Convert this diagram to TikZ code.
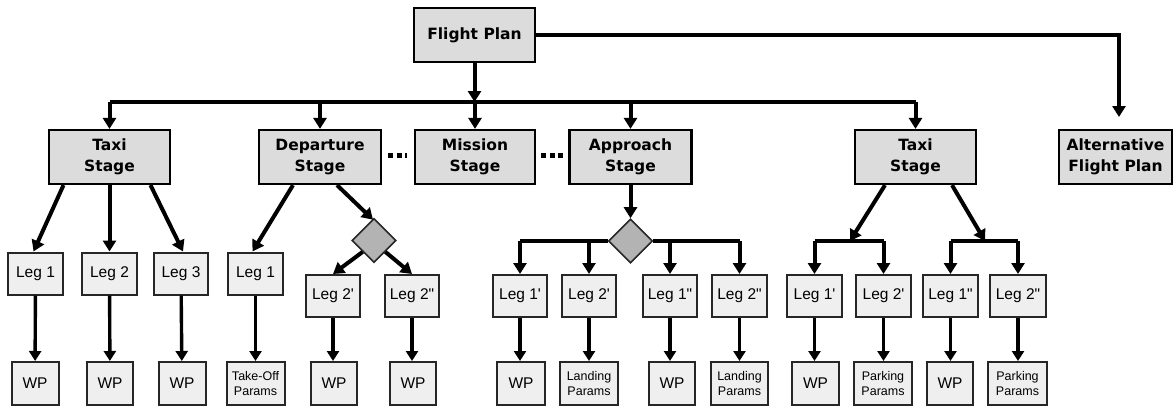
\documentclass[tikz,border=0pt]{standalone}
\usepackage{fontspec}
\setmainfont{Liberation Sans}
\newfontfamily\stagefont{DejaVu Sans}
\usetikzlibrary{arrows.meta,shapes.geometric}
\definecolor{stagegray}{HTML}{DCDCDC}
\definecolor{leggray}{HTML}{EFEFEF}
\definecolor{choicegray}{HTML}{B3B3B3}
\newcommand{\pr}{\textquotesingle}
\newcommand{\dpr}{\textquotedbl}
\begin{document}
\begin{tikzpicture}[x=1pt,y=-1pt,
  stagebox/.style={draw=black, line width=2.2pt, fill=stagegray, minimum width=121pt,
    minimum height=54pt, inner sep=0pt, align=center,
    font=\stagefont\bfseries\fontsize{15.5}{20.5}\selectfont},
  legbox/.style={draw=black!85, line width=2pt, fill=leggray, minimum width=55pt,
    minimum height=42pt, inner sep=0pt, font=\fontsize{15.5}{18}\selectfont},
  leafbox/.style={legbox, minimum width=47pt, minimum height=43pt},
  parambox/.style={leafbox, minimum width=58pt, align=center,
    font=\fontsize{12.5}{15}\selectfont},
  choice/.style={diamond, aspect=1, draw=black!85, line width=1.6pt, fill=choicegray,
    minimum width=44pt, minimum height=44pt, inner sep=0pt},
  flow/.style={line width=4pt, -{Triangle[width=13pt,length=11pt]}},
  thinflow/.style={line width=3.4pt, -{Triangle[width=12pt,length=10pt]}},
  link/.style={line width=4pt},
  ellipsis/.style={line width=5pt, dash pattern=on 5pt off 3.5pt}
]
\useasboundingbox (0,0) rectangle (1175,410);

% top level
\node[stagebox] (fp) at (474.5,35) {Flight Plan};

% stages
\node[stagebox] (taxi1) at (109.5,157) {Taxi\\Stage};
\node[stagebox, minimum width=122pt] (dep) at (320,157) {Departure\\Stage};
\node[stagebox, minimum width=120pt] (mis) at (475,157) {Mission\\Stage};
\node[stagebox, minimum width=122pt] (app) at (630.5,157) {Approach\\Stage};
\node[stagebox] (taxi2) at (915.5,157) {Taxi\\Stage};
\node[stagebox, minimum width=113pt] (alt) at (1115.5,157) {Alternative\\Flight Plan};

% helper points
\coordinate (bus) at (474.5,102);
\coordinate (altin) at (1119,117);
\coordinate (j1) at (850,241);
\coordinate (j2) at (985,241);

% taxi-out legs
\node[legbox] (t1l1) at (35.5,273.5) {Leg 1};
\node[legbox] (t1l2) at (109.5,273.5) {Leg 2};
\node[legbox, minimum width=54pt] (t1l3) at (181,273.5) {Leg 3};
\node[leafbox] (t1w1) at (35,383.5) {WP};
\node[leafbox, minimum width=46pt] (t1w2) at (110,383.5) {WP};
\node[leafbox] (t1w3) at (182,383.5) {WP};

% departure legs
\node[legbox] (dl1) at (255.5,273.5) {Leg 1};
\node[parambox] (dto) at (255.5,383.5) {Take-Off\\Params};
\node[choice] (dd) at (374,240.5) {};
\node[legbox, minimum width=54pt] (dl2a) at (333,296) {Leg 2\pr};
\node[legbox, minimum width=54pt] (dl2b) at (412,296) {Leg 2\dpr};
\node[leafbox, minimum width=46pt] (dw2a) at (334,383.5) {WP};
\node[leafbox, minimum width=46pt] (dw2b) at (413,383.5) {WP};

% approach legs
\node[choice] (ad) at (630.5,241) {};
\node[legbox, minimum width=54pt] (al1a) at (520,296) {Leg 1\pr};
\node[legbox, minimum width=54pt] (al2a) at (589,296) {Leg 2\pr};
\node[legbox, minimum width=54pt] (al1b) at (670,296) {Leg 1\dpr};
\node[legbox] (al2b) at (739.5,296) {Leg 2\dpr};
\node[leafbox, minimum width=48pt] (aw1a) at (521,383.5) {WP};
\node[parambox] (ap2a) at (589,383.5) {Landing\\Params};
\node[leafbox, minimum width=46pt] (aw1b) at (672,383.5) {WP};
\node[parambox, minimum width=57pt] (ap2b) at (739.5,383.5) {Landing\\Params};

% taxi-in legs
\node[legbox] (t2l1a) at (814.5,296) {Leg 1\pr};
\node[legbox] (t2l2a) at (883.5,296) {Leg 2\pr};
\node[legbox] (t2l1b) at (950.5,296) {Leg 1\dpr};
\node[legbox, minimum width=56pt] (t2l2b) at (1018,296) {Leg 2\dpr};
\node[leafbox] (t2w1a) at (815.5,383.5) {WP};
\node[parambox] (t2p2a) at (883,383.5) {Parking\\Params};
\node[leafbox, minimum width=46pt] (t2w1b) at (950,383.5) {WP};
\node[parambox, minimum width=59pt] (t2p2b) at (1017.5,383.5) {Parking\\Params};

% flight plan to stages
\draw[flow] (fp.south) -- (bus);
\draw[link] (taxi1.north |- bus) -- (taxi2.north |- bus);
\foreach \s in {taxi1,dep,mis,app,taxi2}
  \draw[flow] (\s.north |- bus) -- (\s.north);
\draw[flow] (fp.east) -| (altin);

% stage sequence ellipses
\draw[ellipsis] ([xshift=6pt,yshift=2pt]dep.east) -- ([xshift=-7pt,yshift=2pt]mis.west);
\draw[ellipsis] ([xshift=5pt,yshift=2pt]mis.east) -- ([xshift=-4pt,yshift=2pt]app.west);

% taxi-out
\draw[flow] ([xshift=-46pt]taxi1.south) -- ([xshift=-2pt]t1l1.north);
\draw[flow] (taxi1.south) -- (t1l2.north);
\draw[flow] ([xshift=41pt]taxi1.south) -- ([xshift=2pt]t1l3.north);
\draw[thinflow] (t1l1) -- (t1w1);
\draw[thinflow] (t1l2) -- (t1w2);
\draw[thinflow] (t1l3) -- (t1w3);

% departure
\draw[flow] ([xshift=-27pt]dep.south) -- ([xshift=-3pt]dl1.north);
\draw[flow] ([xshift=17pt]dep.south) -- ([xshift=-1pt,yshift=-2pt]dd.north);
\draw[flow] (dd.south west) -- (dl2a.north);
\draw[flow] (dd.south east) -- (dl2b.north);
\draw[thinflow] (dl1) -- (dto);
\draw[thinflow] (dl2a) -- (dw2a.north -| dl2a);
\draw[thinflow] (dl2b) -- (dw2b.north -| dl2b);

% approach
\draw[flow] (app.south) -- (ad.north);
\draw[link] (ad.west) -| (al1a.north |- ad.west);
\draw[link] (ad.east) -- (al2b.north |- ad.east);
\foreach \l in {al1a,al2a,al1b,al2b}
  \draw[flow] (\l.north |- ad.west) -- (\l.north);
\draw[thinflow] (al1a) -- (aw1a.north -| al1a);
\draw[thinflow] (al2a) -- (ap2a);
\draw[thinflow] (al1b) -- (aw1b.north -| al1b);
\draw[thinflow] (al2b) -- (ap2b);

% taxi-in
\draw[flow] ([xshift=-30.5pt]taxi2.south) -- (j1);
\draw[flow] ([xshift=36.5pt]taxi2.south) -- (j2);
\draw[link] (t2l1a.north |- j1) -- (t2l2a.north |- j1);
\draw[link] (t2l1b.north |- j2) -- (t2l2b.north |- j2);
\foreach \l in {t2l1a,t2l2a}
  \draw[flow] (\l.north |- j1) -- (\l.north);
\foreach \l in {t2l1b,t2l2b}
  \draw[flow] (\l.north |- j2) -- (\l.north);
\draw[thinflow] (t2l1a) -- (t2w1a.north -| t2l1a);
\draw[thinflow] (t2l2a) -- (t2p2a.north -| t2l2a);
\draw[thinflow] (t2l1b) -- (t2w1b.north -| t2l1b);
\draw[thinflow] (t2l2b) -- (t2p2b.north -| t2l2b);
\end{tikzpicture}
\end{document}
